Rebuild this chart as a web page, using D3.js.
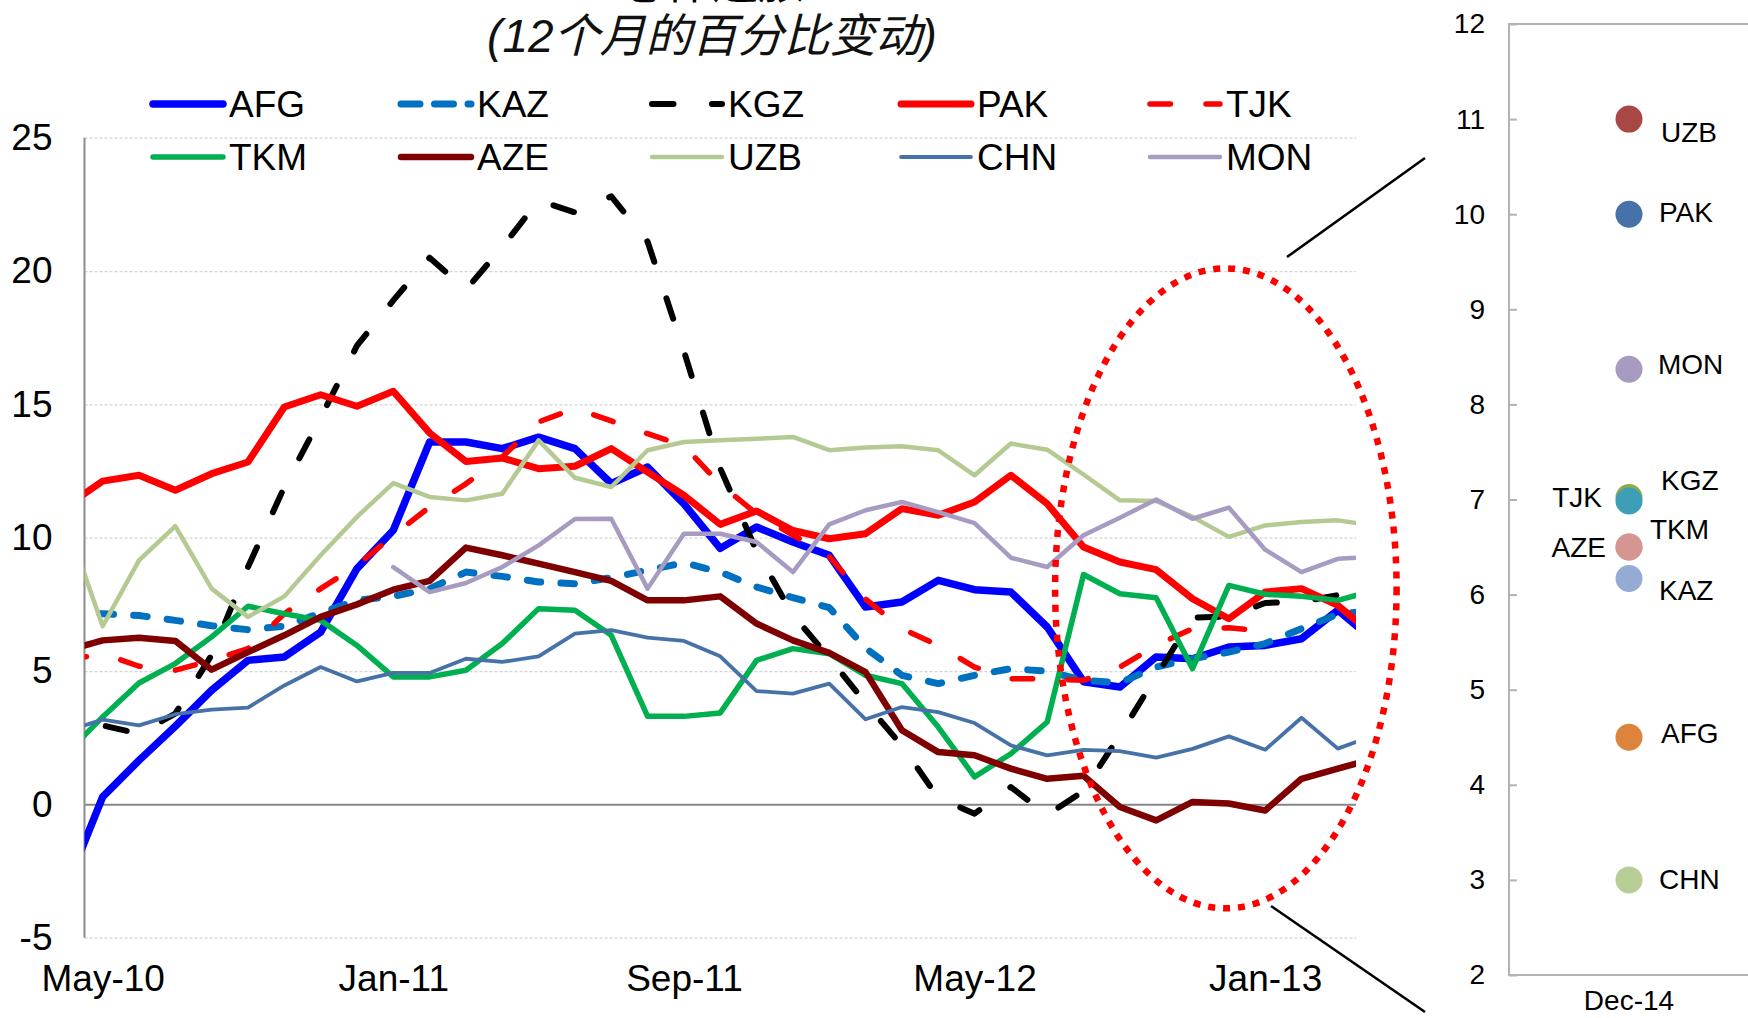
<!DOCTYPE html>
<html>
<head>
<meta charset="utf-8">
<script src="https://cdn.jsdelivr.net/npm/d3@7"></script>
<style>
  body { margin: 0; background: #fff; }
  svg { display: block; font-family: "Liberation Sans", Arial, sans-serif; }
</style>
</head>
<body>
<div id="chart"></div>
<script>
// months shown on the category axis (first and last one fall just outside the plot)
const months = ["Apr-10","May-10","Jun-10","Jul-10","Aug-10","Sep-10","Oct-10","Nov-10","Dec-10",
  "Jan-11","Feb-11","Mar-11","Apr-11","May-11","Jun-11","Jul-11","Aug-11","Sep-11","Oct-11","Nov-11","Dec-11",
  "Jan-12","Feb-12","Mar-12","Apr-12","May-12","Jun-12","Jul-12","Aug-12","Sep-12","Oct-12","Nov-12","Dec-12",
  "Jan-13","Feb-13","Mar-13","Apr-13"];
const xTickLabels = ["May-10","Jan-11","Sep-11","May-12","Jan-13"];
const yTicks = [-5, 0, 5, 10, 15, 20, 25];

const AFG = [-3.1,0.28,1.65,2.93,4.28,5.4,5.53,6.46,8.84,10.28,13.59,13.59,13.34,13.77,13.34,12.03,12.65,11.27,9.6,10.4,9.84,9.34,7.4,7.59,8.4,8.05,7.96,6.65,4.6,4.4,5.53,5.46,5.9,5.96,6.21,7.28,6.14];
const KAZ = [7.15,7.15,7.08,6.9,6.7,6.55,6.68,7.18,7.65,7.8,8.09,8.71,8.55,8.34,8.27,8.5,8.78,9.06,8.71,8.15,7.75,7.38,5.86,4.84,4.53,4.84,5.09,4.99,4.65,4.56,5.15,5.46,5.71,6.03,6.59,7.13,7.27];
const KGZ = [4.6,2.96,2.65,3.4,5.6,8.9,11.9,14.5,17.2,18.9,20.5,19.3,20.9,22.65,22.2,22.8,21.1,17.0,12.6,9.5,7.1,5.5,3.8,2.2,0.25,-0.35,0.65,-0.4,0.5,2.6,4.8,7.0,7.05,7.55,7.6,7.85,8.07];
const PAK = [11.18,12.12,12.34,11.78,12.4,12.84,14.9,15.36,14.93,15.49,13.93,12.86,12.99,12.59,12.68,13.34,12.46,11.59,10.5,11.0,10.27,9.96,10.15,11.09,10.84,11.34,12.34,11.27,9.65,9.09,8.8,7.71,6.96,7.96,8.09,7.46,6.34];
const TJK = [5.4,5.65,5.18,5.03,5.4,5.84,7.15,8.09,8.96,10.09,11.15,12.02,13.03,14.34,14.85,14.38,13.9,13.45,12.0,10.9,10.1,9.3,7.7,6.59,5.96,5.15,4.71,4.71,4.65,5.15,5.96,6.59,6.62,6.5,null,null,null];
const TKM = [1.9,3.28,4.55,5.28,6.28,7.43,7.15,6.9,5.96,4.78,4.78,5.03,6.03,7.34,7.28,6.34,3.3,3.3,3.43,5.4,5.84,5.65,4.84,4.53,2.9,1.03,1.9,3.09,8.62,7.9,7.75,5.09,8.21,7.88,7.8,7.65,8.03];
const AZE = [5.77,6.15,6.25,6.13,5.05,5.71,6.34,7.03,7.5,8.05,8.38,9.63,9.34,9.03,8.71,8.38,7.65,7.65,7.8,6.78,6.15,5.68,4.96,2.78,1.96,1.84,1.34,0.96,1.07,-0.1,-0.6,0.09,0.03,-0.23,0.96,1.34,1.72];
const UZB = [10.6,6.68,9.15,10.43,8.09,7.03,7.8,9.34,10.78,12.05,11.53,11.4,11.65,13.65,12.25,11.9,13.28,13.59,13.65,13.71,13.78,13.28,13.38,13.43,13.28,12.34,13.53,13.3,12.37,11.4,11.38,10.78,10.03,10.46,10.59,10.65,10.45];
const CHN = [2.74,3.18,2.96,3.38,3.55,3.63,4.46,5.15,4.61,4.93,4.93,5.46,5.34,5.55,6.4,6.53,6.25,6.13,5.55,4.25,4.15,4.53,3.19,3.65,3.46,3.05,2.21,1.84,2.04,2.0,1.75,2.08,2.55,2.05,3.25,2.09,2.59];
const MON = [null,null,null,null,null,null,null,null,null,8.9,7.96,8.3,8.9,9.71,10.7,10.71,8.09,10.15,10.15,9.84,8.71,10.5,11.03,11.34,10.96,10.55,9.25,8.9,10.09,10.75,11.43,10.71,11.13,9.55,8.71,9.21,9.29];

const countries = ["AFG","KAZ","KGZ","PAK","TJK","TKM","AZE","UZB","CHN","MON"];
// Dec-14 panel (same order as countries)
const dec14 = [4.5, 6.17, 7.02, 10.0, 6.985, 6.5, 6.5, 11.0, 3.0, 8.37];
const dec14Ticks = [2,3,4,5,6,7,8,9,10,11,12];

const seriesValues = {AFG, KAZ, KGZ, PAK, TJK, TKM, AZE, UZB, CHN, MON};

const styles = {
  AFG: {color: "#0000FF", width: 7.5},
  KAZ: {color: "#0070C0", width: 7, dash: "13.5,20.2", legendDash: "19,14.5"},
  KGZ: {color: "#000000", width: 6, dash: "21.5,38.5"},
  PAK: {color: "#FF0000", width: 7},
  TJK: {color: "#FF0000", width: 5.5, dash: "20.5,35.5"},
  TKM: {color: "#00B050", width: 5.5},
  AZE: {color: "#7F0000", width: 6.5},
  UZB: {color: "#B5CA93", width: 4.5},
  CHN: {color: "#4672A8", width: 3.8},
  MON: {color: "#A79BC1", width: 4.5}
};
const dotColors = {
  AFG: "#DD843C", KAZ: "#95ABD5", KGZ: "#8EA94D", PAK: "#4671A9", TJK: "#3F9EB7",
  TKM: "#D49593", AZE: "#D49593", UZB: "#A94745", CHN: "#B9CE97", MON: "#A89BC2"
};
// label placement next to each dot: [dx, dy, anchor]
const labelNudge = {
  UZB: [32, 12.5, "start"], PAK: [30, -2, "start"], MON: [29, -5, "start"],
  KGZ: [32, -17.6, "start"], TJK: [-27, -4, "end"], TKM: [21, -18, "start"],
  AZE: [-23, 0, "end"], KAZ: [30, 11, "start"], AFG: [32, -4, "start"], CHN: [30, -1, "start"]
};

const W = 1748, H = 1018;
const plot = {left: 84.5, right: 1356, top: 137.7, bottom: 937.7};

const svg = d3.select("#chart").append("svg")
    .attr("width", W)
    .attr("height", H);

// ---------- title (first line sits mostly above the frame, as in the source) ----------
svg.append("text")
    .attr("x", 712).attr("y", -2)
    .attr("text-anchor", "middle")
    .style("font-family", "'Noto Sans CJK SC'")
    .style("font-size", "46px")
    .text("总体通胀");

svg.append("text")
    .attr("x", 712).attr("y", 52)
    .attr("text-anchor", "middle")
    .style("font-family", "'Liberation Sans', 'Noto Sans CJK SC'")
    .style("font-style", "italic")
    .style("font-size", "46px")
    .style("fill", "#111")
    .text("(12个月的百分比变动)");

// ---------- scales ----------
const step = (plot.right - plot.left) / (months.length - 2);
const x = d3.scalePoint()
    .domain(months)
    .range([plot.left - step / 2, plot.right + step / 2]);
const y = d3.scaleLinear()
    .domain([-5, 25])
    .range([plot.bottom, plot.top]);

// ---------- y axis + gridlines ----------
const yAxis = svg.append("g")
    .attr("transform", `translate(${plot.left},0)`)
    .call(d3.axisLeft(y)
        .tickValues(yTicks)
        .tickSize(-(plot.right - plot.left))
        .tickPadding(32)
        .tickFormat(d => String(d)));
yAxis.select(".domain").remove();
yAxis.selectAll(".tick line")
    .attr("stroke", d => d === 0 ? "#868686" : "#D4D4D4")
    .attr("stroke-width", d => d === 0 ? 2 : 1.2)
    .attr("stroke-dasharray", d => d === 0 ? null : "3,2");
yAxis.selectAll(".tick text")
    .style("font-size", "37px")
    .style("fill", "#000");

svg.append("line")
    .attr("x1", plot.left).attr("x2", plot.left)
    .attr("y1", plot.top).attr("y2", plot.bottom)
    .attr("stroke", "#8C8C8C")
    .attr("stroke-width", 2);

// ---------- x axis ----------
const xAxis = svg.append("g")
    .attr("transform", `translate(0,${plot.bottom})`)
    .call(d3.axisBottom(x)
        .tickValues(xTickLabels)
        .tickSize(0)
        .tickPadding(27));
xAxis.select(".domain").remove();
xAxis.selectAll(".tick text")
    .style("font-size", "37px")
    .style("fill", "#000");

// ---------- lines ----------
svg.append("clipPath").attr("id", "plotClip")
  .append("rect")
    .attr("x", plot.left).attr("y", 0)
    .attr("width", plot.right - plot.left).attr("height", H);

const line = d3.line()
    .defined(d => d != null)
    .x((d, i) => x(months[i]))
    .y(d => y(d));

const series = countries.map(name => ({name: name, values: seriesValues[name]}));

svg.append("g")
    .attr("clip-path", "url(#plotClip)")
  .selectAll("path")
  .data(series)
  .enter()
  .append("path")
    .attr("d", d => line(d.values))
    .attr("fill", "none")
    .attr("stroke", d => styles[d.name].color)
    .attr("stroke-width", d => styles[d.name].width)
    .attr("stroke-dasharray", d => styles[d.name].dash || null)
    .attr("stroke-linejoin", "round")
    .attr("stroke-linecap", "round");

// ---------- legend ----------
const legendCols = [153, 401, 652, 901, 1150];
const legendRows = [104, 157];
const legend = svg.append("g")
  .selectAll("g")
  .data(countries)
  .enter()
  .append("g")
    .attr("transform", (d, i) => `translate(${legendCols[i % 5]},${legendRows[Math.floor(i / 5)]})`);

legend.append("line")
    .attr("x1", 0).attr("x2", 70)
    .attr("stroke", d => styles[d].color)
    .attr("stroke-width", d => styles[d].width)
    .attr("stroke-dasharray", d => styles[d].legendDash || styles[d].dash || null)
    .attr("stroke-linecap", "round");

legend.append("text")
    .attr("x", 76)
    .attr("dy", "0.36em")
    .style("font-size", "37px")
    .text(d => d);

// ---------- highlight ellipse + connectors ----------
svg.append("ellipse")
    .attr("cx", x("Dec-12") - 3)
    .attr("cy", y(8.1))
    .attr("rx", step * 4.7)
    .attr("ry", y(0) - y(12))
    .attr("fill", "none")
    .attr("stroke", "#FF0000")
    .attr("stroke-width", 6.5)
    .attr("stroke-dasharray", "7,8");

svg.append("line")
    .attr("x1", 1287).attr("y1", 257).attr("x2", 1425).attr("y2", 158)
    .attr("stroke", "#000").attr("stroke-width", 2.6);
svg.append("line")
    .attr("x1", 1271).attr("y1", 906).attr("x2", 1425).attr("y2", 1012)
    .attr("stroke", "#000").attr("stroke-width", 2.6);

// ---------- Dec-14 panel ----------
const panel = {left: 1509, top: 24, bottom: 975};
const yR = d3.scaleLinear().domain([2, 12]).range([panel.bottom, panel.top]);
const dotX = 1629;

svg.append("path")
    .attr("d", `M${W},${panel.top}H${panel.left}V${panel.bottom}H${W}`)
    .attr("fill", "none")
    .attr("stroke", "#B3B3B3")
    .attr("stroke-width", 2);

const rAxis = svg.append("g")
    .attr("transform", `translate(${panel.left},0)`)
    .call(d3.axisLeft(yR)
        .tickValues(dec14Ticks)
        .tickSize(-8)
        .tickPadding(24)
        .tickFormat(d => String(d)));
rAxis.select(".domain").remove();
rAxis.selectAll(".tick line").attr("stroke", "#B3B3B3").attr("stroke-width", 2);
rAxis.selectAll(".tick text").style("font-size", "28px").style("fill", "#000");

const dots = countries.map((c, i) => ({name: c, value: dec14[i]}));

svg.append("g")
  .selectAll("circle")
  .data(dots)
  .enter()
  .append("circle")
    .attr("cx", dotX)
    .attr("cy", d => yR(d.value))
    .attr("r", 13.5)
    .attr("fill", d => dotColors[d.name]);

svg.append("g")
  .selectAll("text")
  .data(dots)
  .enter()
  .append("text")
    .attr("x", d => dotX + labelNudge[d.name][0])
    .attr("y", d => yR(d.value) + labelNudge[d.name][1])
    .attr("dy", "0.36em")
    .attr("text-anchor", d => labelNudge[d.name][2])
    .style("font-size", "28px")
    .text(d => d.name);

svg.append("text")
    .attr("x", dotX).attr("y", 1010)
    .attr("text-anchor", "middle")
    .style("font-size", "28px")
    .text("Dec-14");
</script>
</body>
</html>
